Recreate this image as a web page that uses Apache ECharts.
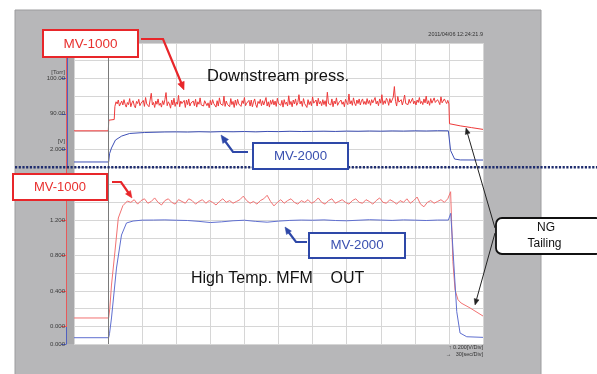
<!DOCTYPE html>
<html>
<head>
<meta charset="utf-8">
<script src="https://cdn.jsdelivr.net/npm/echarts@6/dist/echarts.min.js"></script>
<style>html,body{margin:0;padding:0;background:#fff}#c{width:597px;height:374px}</style>
</head>
<body>
<div id="c"></div>
<script>
// ---- time axis (seconds) ----
const timeMin = 0, timeMax = 360, timeStep = 30;   // 30 sec/Div
const cursorTime = [30.5];

// ---- Downstream press. (MV-1000, Torr) ----
const redUpRise = [[0,85.2],[30.2,85.2],[30.6,88.2],[35.4,88.4]];
const redUpStart = 36, redUpStep = 1;
const redUpPlateau = [
92.1,93.4,92.8,93.9,92.2,91.8,93.6,92.5,94.0,92.7,91.9,93.2,92.6,94.3,92.0,93.1,93.7,92.4,91.7,93.5,
92.9,94.1,92.3,93.0,92.6,93.8,92.1,94.6,92.8,93.3,92.0,93.9,95.8,92.5,93.2,91.8,93.6,92.7,94.2,92.4,
93.0,91.9,93.7,92.6,94.0,96.0,92.3,93.4,92.8,91.6,93.9,92.5,94.4,92.1,93.3,92.7,95.2,92.0,93.6,92.9,
92.4,93.8,91.8,93.9,92.6,94.2,92.2,93.1,92.9,93.6,92.3,94.1,91.9,93.4,92.7,94.5,92.5,93.0,92.2,93.7,
94.2,92.3,93.1,91.7,93.8,92.5,94.0,92.9,93.4,91.9,93.7,92.2,94.5,92.8,93.0,92.4,95.0,92.1,93.6,92.7,
93.2,92.0,94.3,92.6,93.5,91.8,93.9,92.4,94.1,92.8,93.3,92.1,93.7,92.9,94.6,92.3,93.0,92.6,93.8,92.2,
93.9,92.0,93.3,94.2,92.6,91.8,93.5,92.9,94.1,92.3,93.7,92.5,93.0,94.6,92.2,93.4,91.9,93.8,92.7,94.0,
92.5,93.6,92.1,94.4,92.9,93.2,92.4,93.8,91.9,94.0,92.7,93.3,92.2,95.1,92.6,93.5,92.0,93.9,92.8,94.2,
92.4,93.2,95.4,92.8,93.6,92.1,94.3,92.9,93.1,91.8,94.0,92.6,93.5,92.3,94.8,93.0,92.5,93.9,92.2,94.4,
92.8,93.5,92.3,94.0,92.6,93.7,92.1,96.1,92.9,93.4,92.5,94.2,92.0,93.6,92.8,94.5,92.4,93.1,92.7,93.9,
92.7,93.4,92.0,94.1,93.2,92.6,95.6,92.8,93.7,92.4,94.5,93.0,92.3,93.9,92.9,94.2,92.5,93.6,94.2,92.7,
93.5,92.6,94.3,92.9,93.8,92.4,94.0,93.1,92.7,94.6,92.8,93.6,92.3,94.2,93.0,95.4,92.6,93.7,92.9,94.4,
93.8,92.4,94.3,93.1,92.6,94.7,97.7,93.5,92.2,94.9,93.3,92.8,94.0,92.5,93.7,95.3,92.9,93.4,92.6,94.1,
93.0,92.7,94.4,92.8,93.6,92.5,93.9,93.2,94.6,92.9,93.5,92.6,94.2,93.1,95.0,92.8,93.7,92.4,94.3,93.0,
92.7,94.5,93.2,92.9,94.0,93.4,92.6,94.8,93.1,92.8,94.2,93.5,92.9,93.8];
const redUpFall = [[330.0,92.8],[330.5,87.2],[340,86.6],[350,86.1],[360,85.6]];

// ---- MV-2000 upstream (V) ----
const blueUpRise = [[0,1.856],[30.5,1.856],[31.3,1.95],[33,2.014],[36.5,2.104],[42,2.149],[49,2.178],[62,2.189],[80,2.195]];
const blueUpStart = 90, blueUpStep = 10;
const blueUpPlateau = [2.196,2.194,2.198,2.195,2.199,2.197,2.200,2.196,2.201,2.199,2.203,2.200,2.202,2.204,2.201,2.205,2.203,2.206,2.204,2.207,2.205,2.208,2.206,2.209];
const blueUpFall = [[329.5,2.208],[331.5,1.985],[335,1.889],[340,1.879],[360,1.878]];

// ---- High Temp. MFM OUT, MV-1000 (V) ----
const redLowRise = [[0,0.094],[30.5,0.094],[31.5,0.2],[33,0.466],[36,0.839],[39,1.223],[43,1.362],[47,1.415]];
const redLowStart = 50, redLowStep = 3;
const redLowPlateau = [
1.40,1.43,1.38,1.42,1.44,1.39,1.41,1.45,1.40,1.37,
1.42,1.44,1.40,1.38,1.43,1.41,1.39,1.44,1.42,1.38,
1.41,1.43,1.39,1.42,1.40,1.37,1.41,1.44,1.40,1.42,
1.39,1.41,1.43,1.47,1.42,1.39,1.41,1.38,1.42,1.44,
1.48,1.41,1.36,1.40,1.43,1.39,1.42,1.44,1.40,1.38,
1.42,1.40,1.43,1.39,1.41,1.45,1.40,1.38,1.42,1.44,
1.39,1.41,1.43,1.40,1.38,1.42,1.44,1.40,1.39,1.43,
1.41,1.38,1.42,1.45,1.40,1.39,1.43,1.41,1.38,1.42,
1.40,1.44,1.39,1.42,1.46,1.38,1.35,1.40,1.42,1.39,
1.41,1.43,1.40,1.44];
const redLowFall = [[331.5,1.52],[333.5,0.73],[335.4,0.41],[338,0.30],[340.7,0.263],[348.6,0.207],[360,0.116]];

// ---- High Temp. MFM OUT, MV-2000 (V) ----
const blueLowRise = [[0,0.071],[30.5,0.071],[31.3,0.12],[33,0.294],[37.4,0.858],[41.8,1.231],[46.2,1.367],[52,1.389],[60,1.399]];
const blueLowStart = 70, blueLowStep = 10;
const blueLowPlateau = [1.400,1.402,1.398,1.395,1.385,1.372,1.380,1.392,1.398,1.385,1.376,1.388,1.396,1.400,1.398,1.402,1.395,1.392,1.398,1.404,1.400,1.396,1.402,1.399,1.395,1.400];
const blueLowFall = [[329.5,1.40],[331.6,1.476],[336.9,0.365],[339.8,0.124],[345.7,0.082],[360,0.075]];

// ---- axis scales and tick labels ----
const torrMin = 25, torrMax = 110, torrTicks = [90,100,110];
const voltMin = -0.2, voltMax = 3.2, voltBlueTicks = [2.0], voltRedTicks = [0,0.4,0.8,1.2,1.6];
const volt2Min = 0, volt2Max = 3.4, volt2Ticks = [0];
const divCount = 17;

function build(rise, start, step, vals, fall){
  const d = rise.slice();
  vals.forEach((v,i)=>d.push([+(start+i*step).toFixed(2), v]));
  return d.concat(fall);
}

const RED='#ee3a3a', BLUE='#3e50b6', RED2='#f27272', BLUE2='#5f6fd0';
const FONT='Liberation Sans, Arial, sans-serif';

function yAx(min,max,ticks,dec,tickColor){
  return {type:'value',min:min,max:max,position:'left',offset:8,
    axisLine:{show:false,onZero:false},splitLine:{show:false},
    axisTick:{show:true,length:5,customValues:ticks,lineStyle:{color:tickColor,width:1}},
    axisLabel:{show:true,customValues:ticks,margin:1,fontSize:6,color:'#3a3a3a',fontFamily:FONT,
      formatter:(v)=>Number(v).toFixed(dec)}};
}

const chart = echarts.init(document.getElementById('c'),null,{renderer:'canvas'});

function txt(x,y,t,size,color,align,extra){
  return Object.assign({type:'text',z:100,style:{x:x,y:y,text:t,fill:color,font:size+'px '+FONT,
    textAlign:align,textVerticalAlign:'middle',align:align,verticalAlign:'middle'}},extra||{});
}
function line(x1,y1,x2,y2,c,w,z,dash){
  return {type:'line',z:z,shape:{x1:x1,y1:y1,x2:x2,y2:y2},style:{stroke:c,lineWidth:w,lineDash:dash||null}};
}
function poly(pts,c,w){ return {type:'polyline',z:100,shape:{points:pts},style:{stroke:c,lineWidth:w,fill:null}}; }
function head(pts,c){ return {type:'polygon',z:100,shape:{points:pts},style:{fill:c,stroke:c,lineWidth:0.5}}; }
function box(x,y,w,h,c,lw,r){ return {type:'rect',z:99,shape:{x:x,y:y,width:w,height:h,r:r||0},style:{fill:'#fff',stroke:c,lineWidth:lw}}; }

const graphics = [
  {type:'rect',z:-10,shape:{x:15,y:10,width:526,height:370},style:{fill:'#b7b7b9',stroke:'#9c9c9e',lineWidth:1}},
  {type:'rect',z:-9,shape:{x:67,y:43,width:7,height:301},style:{fill:'#a9a9ab'}},
  line(66.5,43,66.5,327,'#e85a5a',1,5),
  line(67.5,43,67.5,167,'#5061c0',1,5),
  line(66.5,327,66.5,344.5,'#5061c0',1,5),
  txt(65,72.5,'[Torr]',6,'#3a3a3a','right'),
  txt(65,141,'[V]',6,'#3a3a3a','right'),
  txt(483,34,'2011/04/06 12:24:21.9',5.5,'#333','right'),
  txt(483,347.5,'↑ 0.200[V/Div]',5.5,'#333','right'),
  txt(483,354.5,'→   30[sec/Div]',5.5,'#333','right'),
  line(15,167.3,597,167.3,'#1f2d6e',2.5,50,[2.2,1.5]),
  // upper MV-1000
  box(43,30,95,27,'#e8262a',2),
  txt(90.5,44,'MV-1000',13.5,'#e8302e','center'),
  poly([[141,39],[163,39],[182.5,86]],'#e8262a',2.2),
  head([[184,90],[177.8,83.9],[184.2,81.3]],'#e8262a'),
  txt(207,76,'Downstream press.',16.5,'#111','left'),
  // upper MV-2000
  box(253,143,95,26,'#2e48a8',2),
  txt(300.5,156,'MV-2000',13.3,'#3a50b0','center'),
  poly([[248,152],[233,152],[223.5,139]],'#2e48a8',2.2),
  head([[221,135],[228.5,139.5],[222.8,143.5]],'#2e48a8'),
  // lower MV-1000
  box(13,174,94,26,'#e8262a',2),
  txt(60,187,'MV-1000',13,'#e8302e','center'),
  poly([[112,182],[121,182],[130,195]],'#e8262a',2.2),
  head([[132,198],[125.5,193.9],[130.5,190.5]],'#e8262a'),
  // lower MV-2000
  box(309,233,96,25,'#2e48a8',2),
  txt(357,245.5,'MV-2000',13.3,'#3a50b0','center'),
  poly([[307,242],[296,242],[287,230]],'#2e48a8',2.2),
  head([[285,227],[291.4,231.1],[286.5,234.5]],'#2e48a8'),
  txt(191,279,'High Temp. MFM    OUT',16,'#111','left'),
  // NG tailing
  box(496,218,106,36,'#111',1.8,6),
  txt(546,228,'NG',12,'#111','center'),
  txt(544.5,244,'Tailing',12,'#111','center'),
  line(495,228,467.5,133.5,'#222',1,100),
  head([[466,128],[470.1,133.1],[465.3,134.5]],'#222'),
  line(495,233,476.5,299.5,'#222',1,100),
  head([[475,305],[479,299.9],[474.2,298.5]],'#222')
];

const option = {
  animation:false,
  backgroundColor:'#ffffff',
  grid:{left:74,top:43,width:409,height:301,show:true,backgroundColor:'#ffffff',borderWidth:0},
  xAxis:{type:'value',min:timeMin,max:timeMax,interval:timeStep,
    axisLine:{show:false},axisTick:{show:false},axisLabel:{show:false},
    splitLine:{show:true,lineStyle:{color:'#d6d6d6',width:1}}},
  yAxis:[
    yAx(torrMin,torrMax,torrTicks,2,'#5061c0'),
    yAx(voltMin,voltMax,voltBlueTicks,3,'#5061c0'),
    yAx(voltMin,voltMax,voltRedTicks,3,'#e85a5a'),
    yAx(volt2Min,volt2Max,volt2Ticks,3,'#5061c0'),
    {type:'value',min:0,max:divCount,interval:1,axisLine:{show:false},axisTick:{show:false},axisLabel:{show:false},
      splitLine:{show:true,lineStyle:{color:'#d6d6d6',width:1}}}
  ],
  series:[
    {type:'line',yAxisIndex:0,symbol:'none',data:build(redUpRise,redUpStart,redUpStep,redUpPlateau,redUpFall),
      lineStyle:{color:RED,width:1},
      markLine:{silent:true,symbol:['none','none'],label:{show:false},lineStyle:{color:'#7a7a7a',width:1,type:'solid'},
        data:[{xAxis:cursorTime[0]}]}},
    {type:'line',yAxisIndex:1,symbol:'none',data:build(blueUpRise,blueUpStart,blueUpStep,blueUpPlateau,blueUpFall),
      lineStyle:{color:BLUE,width:1}},
    {type:'line',yAxisIndex:2,symbol:'none',data:build(redLowRise,redLowStart,redLowStep,redLowPlateau,redLowFall),
      lineStyle:{color:RED2,width:1}},
    {type:'line',yAxisIndex:3,symbol:'none',data:build(blueLowRise,blueLowStart,blueLowStep,blueLowPlateau,blueLowFall),
      lineStyle:{color:BLUE2,width:1}}
  ],
  graphic:{elements:graphics}
};
chart.setOption(option);
</script>
</body>
</html>
